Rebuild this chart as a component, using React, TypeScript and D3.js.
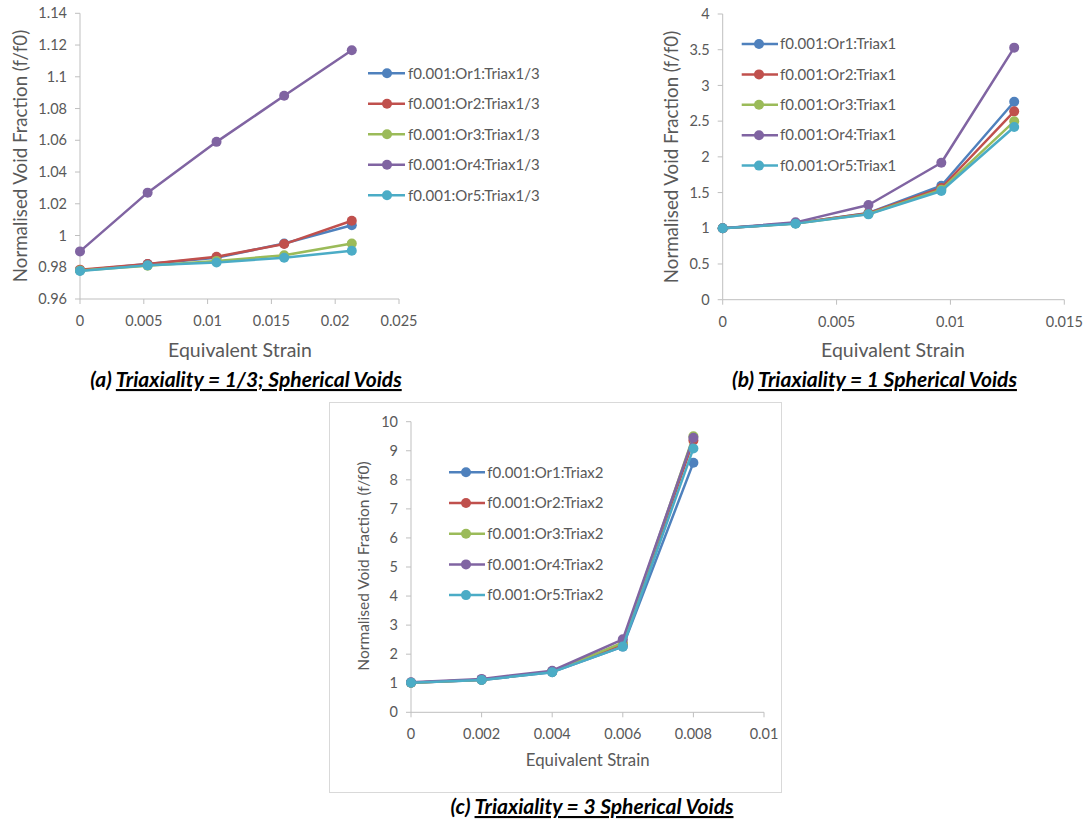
import React from "react";
import * as d3 from "d3";

// ---------- DATA ----------
const orientations = ["Or1", "Or2", "Or3", "Or4", "Or5"];
const seriesColors = ["#4F81BD", "#C0504D", "#9BBB59", "#8064A2", "#4BACC6"];

// Panel (a): Triaxiality 1/3
const strainA = [0, 0.0053, 0.0107, 0.016, 0.0213];
const a_or1 = [0.978, 0.982, 0.986, 0.995, 1.0065];
const a_or2 = [0.9785, 0.982, 0.9866, 0.9946, 1.0093];
const a_or3 = [0.978, 0.981, 0.984, 0.9875, 0.995];
const a_or4 = [0.99, 1.027, 1.059, 1.088, 1.1167];
const a_or5 = [0.9777, 0.9812, 0.983, 0.986, 0.9904];
const yTicksA = [0.96, 0.98, 1, 1.02, 1.04, 1.06, 1.08, 1.1, 1.12, 1.14];
const xTicksA = [0, 0.005, 0.01, 0.015, 0.02, 0.025];

// Panel (b): Triaxiality 1
const strainB = [0, 0.0032, 0.0064, 0.0096, 0.0128];
const b_or1 = [1.0, 1.07, 1.215, 1.596, 2.772];
const b_or2 = [1.0, 1.07, 1.21, 1.564, 2.637];
const b_or3 = [1.0, 1.068, 1.2, 1.54, 2.497];
const b_or4 = [1.0, 1.083, 1.326, 1.918, 3.529];
const b_or5 = [1.0, 1.065, 1.195, 1.522, 2.418];
const yTicksB = [0, 0.5, 1, 1.5, 2, 2.5, 3, 3.5, 4];
const xTicksB = [0, 0.005, 0.01, 0.015];

// Panel (c): Triaxiality 3
const strainC = [0, 0.002, 0.004, 0.006, 0.008];
const c_or1 = [1.02, 1.11, 1.38, 2.26, 8.59];
const c_or2 = [1.02, 1.12, 1.4, 2.35, 9.35];
const c_or3 = [1.02, 1.12, 1.4, 2.4, 9.5];
const c_or4 = [1.03, 1.15, 1.43, 2.51, 9.45];
const c_or5 = [1.02, 1.11, 1.38, 2.26, 9.08];
const yTicksC = [0, 1, 2, 3, 4, 5, 6, 7, 8, 9, 10];
const xTicksC = [0, 0.002, 0.004, 0.006, 0.008, 0.01];

const FONT = "Lato, 'Open Sans', sans-serif";
const TXT = "#595959";
const AXIS = "#BFBFBF";

const fmt = (v: number) => String(+v.toFixed(4));

type PanelProps = {
  x0: number; x1: number; yTop: number; yBot: number;
  xDomain: [number, number]; yDomain: [number, number];
  xTicks: number[]; yTicks: number[];
  strain: number[]; series: number[][]; suffix: string;
  legend: { lx0: number; lx1: number; mx: number; tx: number; y0: number; dy: number };
  yTitle: { x: number; y: number; size: number };
  xTitle: { x: number; y: number; size: number };
  tickSize: number; legendSize: number;
};

function Panel(p: PanelProps) {
  const xs = d3.scaleLinear().domain(p.xDomain).range([p.x0, p.x1]);
  const ys = d3.scaleLinear().domain(p.yDomain).range([p.yBot, p.yTop]);
  const line = d3.line<number>().x((_, i) => xs(p.strain[i])).y((d) => ys(d));
  return (
    <g>
      {/* axes */}
      <line x1={p.x0} x2={p.x0} y1={p.yTop} y2={p.yBot} stroke={AXIS} strokeWidth={1} />
      <line x1={p.x0} x2={p.x1} y1={p.yBot} y2={p.yBot} stroke={AXIS} strokeWidth={1} />
      {p.yTicks.map((t) => (
        <g key={"y" + t}>
          <line x1={p.x0 - 5} x2={p.x0} y1={ys(t)} y2={ys(t)} stroke={AXIS} />
          <text x={p.x0 - 13} y={ys(t)} dy="0.35em" textAnchor="end" fontSize={p.tickSize} fill={TXT} fontFamily={FONT}>
            {fmt(t)}
          </text>
        </g>
      ))}
      {p.xTicks.map((t) => (
        <g key={"x" + t}>
          <line x1={xs(t)} x2={xs(t)} y1={p.yBot} y2={p.yBot + 5} stroke={AXIS} />
          <text x={xs(t)} y={p.yBot + 22} dy="0.35em" textAnchor="middle" fontSize={p.tickSize} fill={TXT} fontFamily={FONT}>
            {fmt(t)}
          </text>
        </g>
      ))}
      <text
        transform={`translate(${p.yTitle.x},${p.yTitle.y}) rotate(-90)`}
        textAnchor="middle" dy="0.35em" fontSize={p.yTitle.size} fill={TXT} fontFamily={FONT}
      >
        Normalised Void Fraction (f/f0)
      </text>
      <text x={p.xTitle.x} y={p.xTitle.y} dy="0.35em" textAnchor="middle" fontSize={p.xTitle.size} fill={TXT} fontFamily={FONT}>
        Equivalent Strain
      </text>
      {/* series */}
      {p.series.map((s, k) => (
        <g key={"s" + k}>
          <path d={line(s) || ""} fill="none" stroke={seriesColors[k]} strokeWidth={2.5} strokeLinejoin="round" />
          {s.map((v, i) => (
            <circle key={i} cx={xs(p.strain[i])} cy={ys(v)} r={5} fill={seriesColors[k]} />
          ))}
        </g>
      ))}
      {/* legend */}
      {orientations.map((o, k) => {
        const y = p.legend.y0 + k * p.legend.dy;
        return (
          <g key={"l" + o}>
            <line x1={p.legend.lx0} x2={p.legend.lx1} y1={y} y2={y} stroke={seriesColors[k]} strokeWidth={2.5} />
            <circle cx={p.legend.mx} cy={y} r={5} fill={seriesColors[k]} />
            <text x={p.legend.tx} y={y} dy="0.35em" fontSize={p.legendSize} fill={TXT} fontFamily={FONT}>
              {`f0.001:${o}:${p.suffix}`}
            </text>
          </g>
        );
      })}
    </g>
  );
}

function Caption({ x, y, label, body }: { x: number; y: number; label: string; body: string }) {
  return (
    <text x={x} y={y} textAnchor="middle" fontSize={21} fontWeight="bold" fontStyle="italic" fill="#000" fontFamily={FONT}>
      <tspan>{label + " "}</tspan>
      <tspan textDecoration="underline" style={{ textDecoration: "underline" }}>{body}</tspan>
    </text>
  );
}

export default function App() {
  return (
    <svg width={1087} height={823} style={{ position: "absolute", left: 0, top: 0, background: "#fff" }}>
      <rect x={0} y={0} width={1087} height={823} fill="#fff" />
      <Panel
        x0={80} x1={399} yTop={13.3} yBot={299}
        xDomain={[0, 0.025]} yDomain={[0.96, 1.14]}
        xTicks={xTicksA} yTicks={yTicksA}
        strain={strainA} series={[a_or1, a_or2, a_or3, a_or4, a_or5]} suffix="Triax1/3"
        legend={{ lx0: 368, lx1: 405, mx: 387, tx: 408, y0: 73.3, dy: 30.5 }}
        yTitle={{ x: 20, y: 156, size: 18.7 }} xTitle={{ x: 240, y: 350, size: 19.5 }}
        tickSize={14.5} legendSize={15}
      />
      <Panel
        x0={722.7} x1={1064.3} yTop={14} yBot={299.7}
        xDomain={[0, 0.015]} yDomain={[0, 4]}
        xTicks={xTicksB} yTicks={yTicksB}
        strain={strainB} series={[b_or1, b_or2, b_or3, b_or4, b_or5]} suffix="Triax1"
        legend={{ lx0: 741.7, lx1: 778, mx: 759, tx: 780, y0: 44, dy: 30.4 }}
        yTitle={{ x: 671.7, y: 157, size: 18.7 }} xTitle={{ x: 893, y: 350, size: 19.5 }}
        tickSize={14.5} legendSize={15}
      />
      <rect x={329.5} y={402.5} width={452} height={390} fill="none" stroke="#D9D9D9" strokeWidth={1} />
      <Panel
        x0={411} x1={764} yTop={421.7} yBot={712.3}
        xDomain={[0, 0.01]} yDomain={[0, 10]}
        xTicks={xTicksC} yTicks={yTicksC}
        strain={strainC} series={[c_or1, c_or2, c_or3, c_or4, c_or5]} suffix="Triax2"
        legend={{ lx0: 449, lx1: 485, mx: 466, tx: 487.3, y0: 472.3, dy: 30.7 }}
        yTitle={{ x: 363.3, y: 566, size: 15.5 }} xTitle={{ x: 587.7, y: 760, size: 16.8 }}
        tickSize={14.5} legendSize={15}
      />
      <Caption x={246} y={387} label="(a)" body="Triaxiality = 1/3; Spherical Voids" />
      <Caption x={874.5} y={387} label="(b)" body="Triaxiality = 1 Spherical Voids" />
      <Caption x={592} y={814} label="(c)" body="Triaxiality = 3 Spherical Voids" />
    </svg>
  );
}
